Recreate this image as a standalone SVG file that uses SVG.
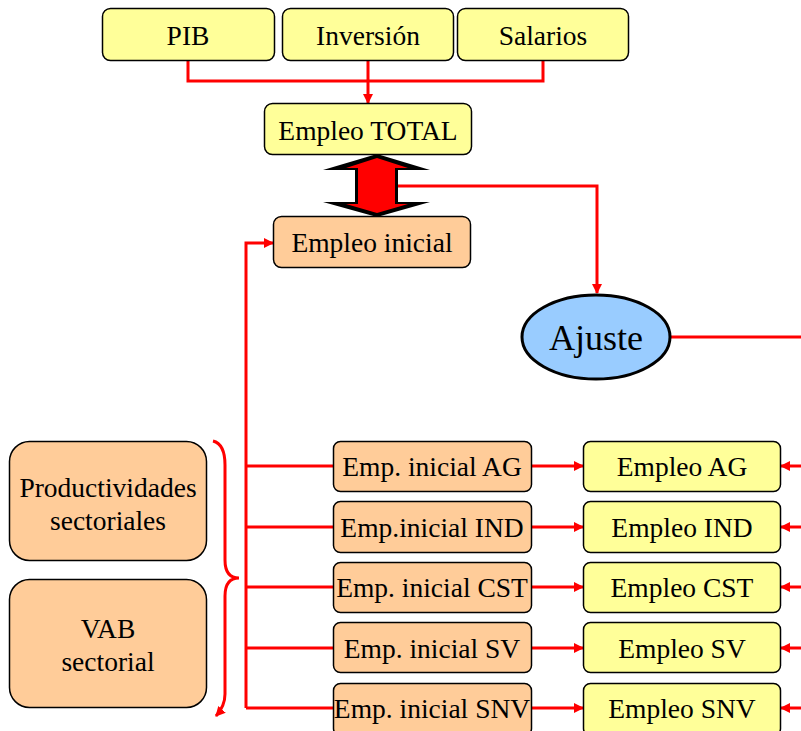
<svg xmlns="http://www.w3.org/2000/svg" width="801" height="731" viewBox="0 0 801 731">
  <style>
    .box { stroke: #000; stroke-width: 1.5; }
    .yellow { fill: #FFFF99; }
    .peach { fill: #FFCC99; }
    .lbl { font-family: "Liberation Serif", "Times New Roman", serif; font-size: 27.5px; fill: #000; text-anchor: middle; }
    .conn { fill: none; stroke: #FF0000; stroke-width: 3; }
  </style>
  <defs>
    <marker id="arrow" viewBox="0 0 10 10" refX="9" refY="5" markerWidth="10" markerHeight="10" markerUnits="userSpaceOnUse" orient="auto">
      <path d="M0,0 L10,5 L0,10 Z" fill="#FF0000"/>
    </marker>
  </defs>
  <rect width="801" height="731" fill="#FFFFFF"/>

  <!-- connectors -->
  <g id="connectors">
    <path class="conn" d="M188,61 V81 H543 V61"/>
    <path class="conn" d="M368,61 V103" marker-end="url(#arrow)"/>
    <path class="conn" d="M398,186 H597 V293" marker-end="url(#arrow)"/>
    <path class="conn" d="M671,337 H801"/>
    <path class="conn" d="M246,708 V243 H273" marker-end="url(#arrow)"/>
    <path class="conn" d="M246,466 H333"/>
    <path class="conn" d="M246,527 H333"/>
    <path class="conn" d="M246,587 H333"/>
    <path class="conn" d="M246,648 H333"/>
    <path class="conn" d="M246,708 H333"/>
    <path class="conn" d="M532,466 H583" marker-end="url(#arrow)"/>
    <path class="conn" d="M532,527 H583" marker-end="url(#arrow)"/>
    <path class="conn" d="M532,587 H583" marker-end="url(#arrow)"/>
    <path class="conn" d="M532,648 H583" marker-end="url(#arrow)"/>
    <path class="conn" d="M532,708 H583" marker-end="url(#arrow)"/>
    <path class="conn" d="M801,466 H781" marker-end="url(#arrow)"/>
    <path class="conn" d="M801,527 H781" marker-end="url(#arrow)"/>
    <path class="conn" d="M801,587 H781" marker-end="url(#arrow)"/>
    <path class="conn" d="M801,648 H781" marker-end="url(#arrow)"/>
    <path class="conn" d="M801,708 H781" marker-end="url(#arrow)"/>
    <!-- curly brace grouping the two input boxes -->
    <path class="conn" d="M213,441 Q225,444 225,465 V560 Q225,578 239,578 Q225,578 225,596 V694 Q225,706 216,716" marker-end="url(#arrow)"/>
  </g>

  <!-- double arrow between total and initial employment -->
  <g id="double-arrow">
    <path d="M377,154 L430,170 L398,170 L398,202 L430,202 L377,217 L323,202 L355,202 L355,170 L323,170 Z" fill="#000"/>
    <path d="M377,158 L408,168 L395,168 L395,204 L408,204 L377,213 L346,204 L358,204 L358,168 L346,168 Z" fill="#FF0000"/>
  </g>

  <g id="pib">
    <rect class="box yellow" x="102.5" y="8.5" width="172" height="52" rx="8"/>
    <text class="lbl" x="188" y="45">PIB</text>
  </g>
  <g id="inversion">
    <rect class="box yellow" x="282.5" y="8.5" width="171" height="52" rx="8"/>
    <text class="lbl" x="368" y="45">Inversión</text>
  </g>
  <g id="salarios">
    <rect class="box yellow" x="457.5" y="8.5" width="171" height="52" rx="8"/>
    <text class="lbl" x="543" y="45">Salarios</text>
  </g>
  <g id="empleo-total">
    <rect class="box yellow" x="264.5" y="103.5" width="207" height="51" rx="8"/>
    <text class="lbl" x="368" y="140">Empleo TOTAL</text>
  </g>
  <g id="empleo-inicial">
    <rect class="box peach" x="273.5" y="216.5" width="197" height="51" rx="8"/>
    <text class="lbl" x="372" y="252">Empleo inicial</text>
  </g>
  <g id="ajuste">
    <ellipse cx="596" cy="337" rx="74" ry="42" fill="#99CCFF" stroke="#000" stroke-width="3"/>
    <text class="lbl" x="596" y="350" style="font-size:36px">Ajuste</text>
  </g>

  <g id="productividades">
    <rect class="box peach" x="9.5" y="441.5" width="197" height="119" rx="20"/>
    <text class="lbl" x="108" y="497">Productividades</text>
    <text class="lbl" x="108" y="530">sectoriales</text>
  </g>
  <g id="vab">
    <rect class="box peach" x="9.5" y="579.5" width="197" height="128" rx="20"/>
    <text class="lbl" x="108" y="638">VAB</text>
    <text class="lbl" x="108" y="671">sectorial</text>
  </g>

  <g id="emp-inicial-ag">
    <rect class="box peach" x="333.5" y="441.5" width="198" height="50" rx="7"/>
    <text class="lbl" x="432" y="476">Emp. inicial AG</text>
  </g>
  <g id="emp-inicial-ind">
    <rect class="box peach" x="333.5" y="501.5" width="198" height="51" rx="7"/>
    <text class="lbl" x="432" y="537">Emp.inicial IND</text>
  </g>
  <g id="emp-inicial-cst">
    <rect class="box peach" x="333.5" y="562.5" width="198" height="50" rx="7"/>
    <text class="lbl" x="432" y="597">Emp. inicial CST</text>
  </g>
  <g id="emp-inicial-sv">
    <rect class="box peach" x="333.5" y="622.5" width="198" height="50" rx="7"/>
    <text class="lbl" x="432" y="658">Emp. inicial SV</text>
  </g>
  <g id="emp-inicial-snv">
    <rect class="box peach" x="333.5" y="683.5" width="198" height="52" rx="7"/>
    <text class="lbl" x="432" y="718">Emp. inicial SNV</text>
  </g>

  <g id="empleo-ag">
    <rect class="box yellow" x="583.5" y="441.5" width="197" height="50" rx="7"/>
    <text class="lbl" x="682" y="476">Empleo AG</text>
  </g>
  <g id="empleo-ind">
    <rect class="box yellow" x="583.5" y="501.5" width="197" height="51" rx="7"/>
    <text class="lbl" x="682" y="537">Empleo IND</text>
  </g>
  <g id="empleo-cst">
    <rect class="box yellow" x="583.5" y="562.5" width="197" height="50" rx="7"/>
    <text class="lbl" x="682" y="597">Empleo CST</text>
  </g>
  <g id="empleo-sv">
    <rect class="box yellow" x="583.5" y="622.5" width="197" height="50" rx="7"/>
    <text class="lbl" x="682" y="658">Empleo SV</text>
  </g>
  <g id="empleo-snv">
    <rect class="box yellow" x="583.5" y="683.5" width="197" height="52" rx="7"/>
    <text class="lbl" x="682" y="718">Empleo SNV</text>
  </g>
</svg>
